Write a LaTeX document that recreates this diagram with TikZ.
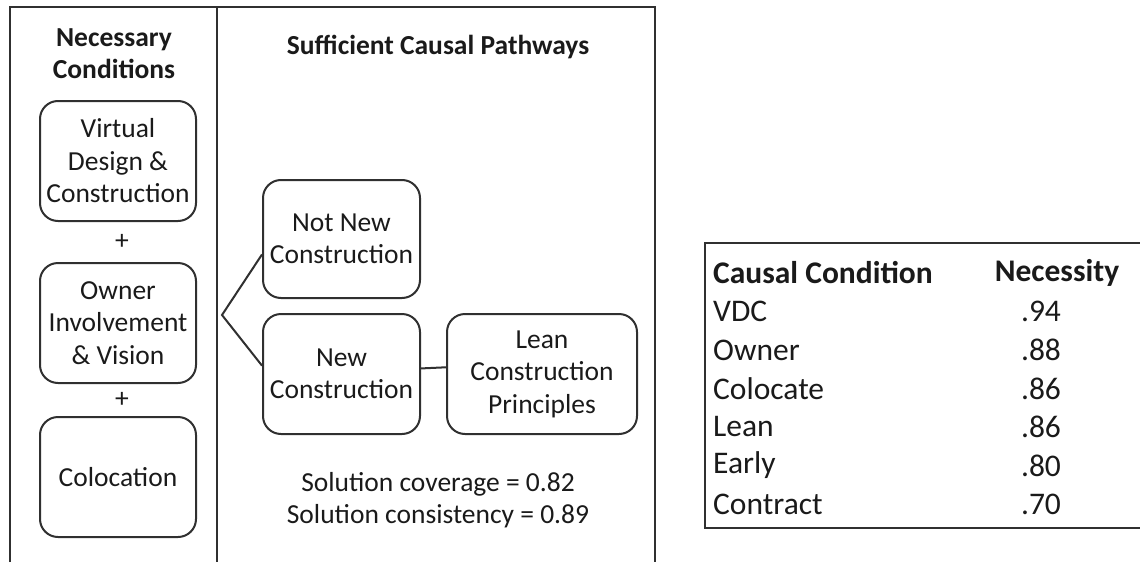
\documentclass[tikz,border=0pt]{standalone}
\usepackage{fontspec}
\setmainfont{Carlito}
\usetikzlibrary{calc}

\definecolor{linegray}{HTML}{303030}
\definecolor{inkgray}{HTML}{1A1A1A}

\tikzset{
  cond/.style={draw=linegray, line width=2pt, rounded corners=18pt,
    align=center, inner sep=0pt, minimum width=156pt, minimum height=120pt,
    text=inkgray, font=\fontsize{27.5}{32.5}\selectfont},
  head/.style={align=center, inner sep=0pt, text=inkgray,
    font=\fontsize{27.5}{32}\selectfont\bfseries},
  plain/.style={align=center, inner sep=0pt, text=inkgray,
    font=\fontsize{27.5}{32.5}\selectfont},
  tab/.style={inner sep=0pt, text=inkgray, font=\fontsize{31.5}{38.5}\selectfont},
  frame/.style={draw=linegray, line width=2pt}
}

\begin{document}
\begin{tikzpicture}[x=1pt,y=-1pt]
    \useasboundingbox (0,0) rectangle (1140,562); % page size

    % left panel frame and divider
    \draw[frame] (10,562) -- (10,7) -- (655,7) -- (655,562);
    \draw[frame] (217,7) -- (217,562);

    \node[head] (nechead) at (114,54) {Necessary\\Conditions};
    \node[head] (sufhead) at (438,47) {Sufficient Causal Pathways};

    % necessary conditions
    \node[cond] (vdc) at (118,161) {Virtual\\Design \&\\Construction};
    \node[plain] (plusA) at (122,242) {+};
    \node[cond] (owner) at (118,323) {Owner\\Involvement\\\& Vision};
    \node[plain] (plusB) at (122,400) {+};
    \node[cond] (coloc) at (118,477) {Colocation};

    % sufficient pathways
    \node[cond, minimum width=157pt, minimum height=118pt] (notnew) at (341.5,239) {Not New\\Construction};
    \node[cond, minimum width=157pt] (new) at (341.5,374) {New\\Construction};
    \node[cond, minimum width=190pt] (lean) at (542,374) {Lean\\Construction\\Principles};

    \coordinate (fork) at (222,315);
    \draw[linegray, line width=2pt] (notnew.191) -- (fork) -- (new.174);
    \draw[linegray, line width=2pt] (new.4) -- (lean.176);

    \node[plain] (solution) at (438,500) {Solution coverage = 0.82\\Solution consistency = 0.89};

    % necessity table
    \draw[frame] (1141,243) -- (705,243) -- (705,528) -- (1141,528);
    \node[tab, font=\fontsize{31.5}{38.5}\selectfont\bfseries, anchor=west] (tcond) at (713,273) {Causal Condition};
    \node[tab, font=\fontsize{31.5}{38.5}\selectfont\bfseries] (tnec) at (1057,273) {Necessity};
    \foreach \name/\val [count=\i] in {VDC/.94, Owner/.88, Colocate/.86, Lean/.86, Early/.80, Contract/.70}{
        \node[tab, anchor=west] (row\i) at (713,273+38.5*\i) {\name};
        \node[tab] (val\i) at (1041,273+38.5*\i) {\val};
    }
\end{tikzpicture}
\end{document}
